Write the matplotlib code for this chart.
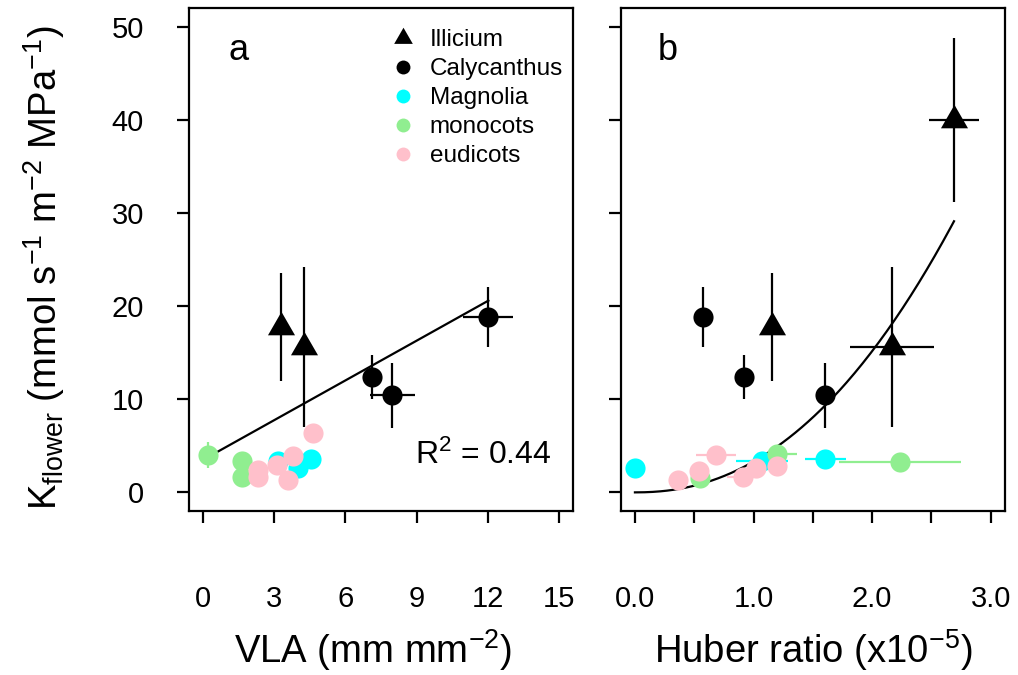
import numpy as np
import matplotlib
matplotlib.use("Agg")
import matplotlib.pyplot as plt
from matplotlib.path import Path
from matplotlib.lines import Line2D

plt.rcParams["font.family"] = ["Liberation Sans", "DejaVu Sans"]
plt.rcParams["mathtext.fontset"] = "custom"
plt.rcParams["mathtext.rm"] = "Liberation Sans"
plt.rcParams["mathtext.it"] = "Liberation Sans:italic"
plt.rcParams["mathtext.bf"] = "Liberation Sans:bold"

# ---- panel a: flower hydraulic conductance vs vein length per area ----
ill_vla = [3.27, 4.24]
ill_vla_k = [17.75, 15.57]
ill_vla_kerr = [5.8, 8.6]

cal_vla = [7.13, 7.98, 12.03]
cal_vla_err = [0.0, 0.95, 1.05]
cal_vla_k = [12.4, 10.4, 18.8]
cal_vla_kerr = [2.35, 3.45, 3.2]

mag_vla = [3.17, 4.01, 4.53]
mag_vla_k = [3.4, 2.65, 3.6]

mono_vla = [0.21, 1.62, 1.62]
mono_vla_k = [3.97, 3.4, 1.65]
mono_vla_kerr = [1.4, 0.0, 0.0]

eud_vla = [2.32, 2.32, 3.10, 3.80, 3.59, 4.64]
eud_vla_k = [2.4, 1.6, 2.9, 3.87, 1.29, 6.37]

vla_fit_intercept = 3.5
vla_fit_slope = 1.42
vla_r2 = "0.44"

# ---- panel b: flower hydraulic conductance vs Huber ratio ----
ill_hub = [1.155, 2.164, 2.69]
ill_hub_err = [0.0, 0.355, 0.21]
ill_hub_k = [17.75, 15.57, 40.0]
ill_hub_kerr = [5.8, 8.6, 8.8]

cal_hub = [0.572, 0.916, 1.606]
cal_hub_k = [18.8, 12.4, 10.4]
cal_hub_kerr = [3.2, 2.35, 3.45]

mag_hub = [0.0, 1.07, 1.606]
mag_hub_err = [0.0, 0.22, 0.17]
mag_hub_k = [2.65, 3.4, 3.62]

mono_hub = [0.55, 1.198, 2.234]
mono_hub_err = [0.0, 0.17, 0.515]
mono_hub_k = [1.58, 4.15, 3.25]

eud_hub = [0.366, 0.544, 0.685, 0.91, 1.023, 1.198]
eud_hub_err = [0.0, 0.0, 0.17, 0.135, 0.0, 0.0]
eud_hub_k = [1.29, 2.29, 3.97, 1.65, 2.61, 2.79]

hub_fit_a = 3.3
hub_fit_b = 2.2

group_names = ["Illicium", "Calycanthus", "Magnolia", "monocots", "eudicots"]
group_colors = ["black", "black", "#00FFFF", "#90EE90", "#FFC0CB"]

vla_ticks = [0, 3, 6, 9, 12, 15]
hub_ticks = [0.0, 0.5, 1.0, 1.5, 2.0, 2.5, 3.0]
hub_ticklabels = ["0.0", "", "1.0", "", "2.0", "", "3.0"]
k_ticks = [0, 10, 20, 30, 40, 50]

# equilateral filled triangle, centred on its centroid
TRI = Path([(0, 1), (-0.866, -0.5), (0.866, -0.5), (0, 1)],
           [Path.MOVETO, Path.LINETO, Path.LINETO, Path.CLOSEPOLY])

MS_CIRC = 14.5
MS_TRI = 22.5
ELW = 1.6
TICK_FS = 21
LABEL_FS = 27.5


def draw_group(ax, x, y, color, marker, ms, xerr=None, yerr=None):
    if xerr is not None or yerr is not None:
        ax.errorbar(x, y, xerr=xerr, yerr=yerr, fmt="none", ecolor=color,
                    elinewidth=ELW, capsize=0, zorder=2)
    ax.plot(x, y, linestyle="none", marker=marker, ms=ms, color=color,
            markeredgewidth=0, zorder=3)


def style_axes(ax):
    for s in ax.spines.values():
        s.set_linewidth(1.6)
    ax.tick_params(direction="out", length=8.5, width=1.6, labelsize=TICK_FS,
                   colors="black")
    ax.tick_params(axis="x", pad=45)
    ax.tick_params(axis="y", pad=24)
    ax.set_ylim(-2, 52)
    ax.set_yticks(k_ticks)


fig = plt.figure(figsize=(10.18, 6.75), dpi=100)
W, H = 1018.0, 675.0
axa = fig.add_axes([189 / W, 1 - 511 / H, 384 / W, 503 / H])
axb = fig.add_axes([620.7 / W, 1 - 511 / H, 384.3 / W, 503 / H])

# panel a
style_axes(axa)
axa.set_xlim(-0.6, 15.6)
axa.set_xticks(vla_ticks)
axa.set_xticklabels([str(t) for t in vla_ticks])
axa.set_yticklabels([str(t) for t in k_ticks])

xf = np.array([min(mono_vla), max(cal_vla)])
axa.plot(xf, vla_fit_intercept + vla_fit_slope * xf, color="black", lw=1.6, zorder=1)

draw_group(axa, ill_vla, ill_vla_k, "black", TRI, MS_TRI, yerr=ill_vla_kerr)
draw_group(axa, cal_vla, cal_vla_k, "black", "o", MS_CIRC,
           xerr=cal_vla_err, yerr=cal_vla_kerr)
draw_group(axa, mag_vla, mag_vla_k, group_colors[2], "o", MS_CIRC)
draw_group(axa, mono_vla, mono_vla_k, group_colors[3], "o", MS_CIRC,
           yerr=mono_vla_kerr)
draw_group(axa, eud_vla, eud_vla_k, group_colors[4], "o", MS_CIRC)

axa.text(0.945, 0.111, r"R$^{2}$ = " + vla_r2, transform=axa.transAxes,
         ha="right", va="center", fontsize=23)
axa.text(0.128, 0.915, "a", transform=axa.transAxes, ha="center",
         va="center", fontsize=26)
axa.set_xlabel(r"VLA (mm mm$^{-2}$)", fontsize=LABEL_FS, va="center")
axa.xaxis.set_label_coords(0.48, -0.276)
axa.set_ylabel(r"K$_{\mathregular{flower}}$ (mmol s$^{-1}$ m$^{-2}$ MPa$^{-1}$)",
               fontsize=LABEL_FS)
axa.yaxis.set_label_coords(-0.318, 0.485)

handles = [
    Line2D([], [], linestyle="none", marker=TRI, ms=15.5, color="black",
           markeredgewidth=0),
    Line2D([], [], linestyle="none", marker="o", ms=10, color="black",
           markeredgewidth=0),
    Line2D([], [], linestyle="none", marker="o", ms=10, color=group_colors[2],
           markeredgewidth=0),
    Line2D([], [], linestyle="none", marker="o", ms=10, color=group_colors[3],
           markeredgewidth=0),
    Line2D([], [], linestyle="none", marker="o", ms=10, color=group_colors[4],
           markeredgewidth=0),
]
axa.legend(handles, group_names, loc="upper left",
           bbox_to_anchor=(0.526, 0.958), frameon=False, fontsize=17.5,
           handlelength=1.0, handletextpad=0.6, labelspacing=0.29,
           borderaxespad=0, borderpad=0)

# panel b
style_axes(axb)
axb.set_xlim(-0.12, 3.12)
axb.set_xticks(hub_ticks)
axb.set_xticklabels(hub_ticklabels)
axb.set_yticklabels([])

all_hub = np.concatenate([ill_hub, cal_hub, mag_hub, mono_hub, eud_hub])
xc = np.linspace(all_hub.min(), all_hub.max(), 200)
axb.plot(xc, hub_fit_a * xc ** hub_fit_b, color="black", lw=1.6, zorder=1)

draw_group(axb, ill_hub, ill_hub_k, "black", TRI, MS_TRI,
           xerr=ill_hub_err, yerr=ill_hub_kerr)
draw_group(axb, cal_hub, cal_hub_k, "black", "o", MS_CIRC, yerr=cal_hub_kerr)
draw_group(axb, mag_hub, mag_hub_k, group_colors[2], "o", MS_CIRC,
           xerr=mag_hub_err)
draw_group(axb, mono_hub, mono_hub_k, group_colors[3], "o", MS_CIRC,
           xerr=mono_hub_err)
draw_group(axb, eud_hub, eud_hub_k, group_colors[4], "o", MS_CIRC,
           xerr=eud_hub_err)

axb.text(0.123, 0.915, "b", transform=axb.transAxes, ha="center",
         va="center", fontsize=26)
axb.set_xlabel(r"Huber ratio (x10$^{-5}$)", fontsize=LABEL_FS, va="center")
axb.xaxis.set_label_coords(0.5, -0.276)

fig.savefig("out.png", dpi=100, facecolor="white")
